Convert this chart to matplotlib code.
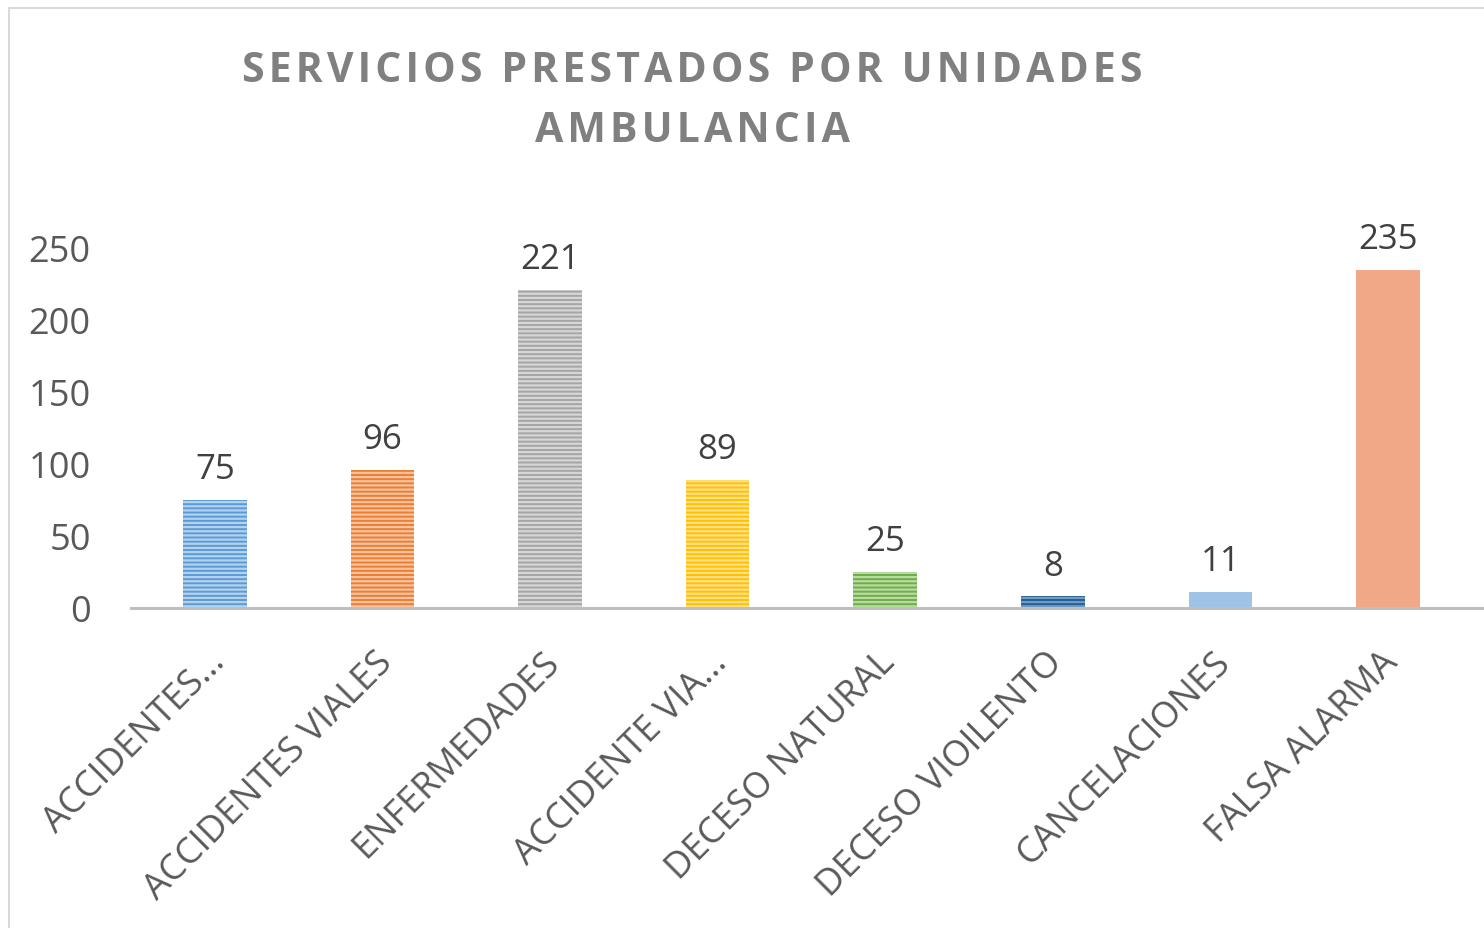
import matplotlib
matplotlib.use("Agg")
import matplotlib.pyplot as plt
import matplotlib.transforms as mtransforms
from matplotlib.patches import Rectangle

categories = ["ACCIDENTES...", "ACCIDENTES VIALES", "ENFERMEDADES", "ACCIDENTE VIA...",
              "DECESO NATURAL", "DECESO VIOILENTO", "CANCELACIONES", "FALSA ALARMA"]
values = [75, 96, 221, 89, 25, 8, 11, 235]
yticks = [0, 50, 100, 150, 200, 250]
title_lines = ["SERVICIOS PRESTADOS POR UNIDADES", "AMBULANCIA"]

face_colors = ["#5B9BD5", "#ED7D31", "#A5A5A5", "#FFC000", "#70AD47", "#255E91", "#9DC3E6", "#F1A886"]
stripe_colors = ["#B4D2EE", "#F7C3A0", "#D6D6D6", "#FFE08A", "#B7DBA0", "#6F9CC6", None, None]

plt.rcParams['font.family'] = ['Open Sans', 'DejaVu Sans']
plt.rcParams['hatch.linewidth'] = 1.6

W, H = 1484, 929
fig = plt.figure(figsize=(W / 100, H / 100), dpi=100)
fig.patch.set_facecolor("white")

# outer chart border (cut at right/bottom like the reference)
fig.add_artist(Rectangle((9 / W, -0.1), 1.2, 1 - 9 / H + 0.1, transform=fig.transFigure,
                         fill=False, edgecolor="#D9D9D9", linewidth=1.5))

left = 131 / W
bottom = (H - 609) / H
top = (H - 249) / H
ax = fig.add_axes([left, bottom, 1 - left, top - bottom])
step = 167.6
ax.set_xlim(-0.5, -0.5 + (W - 131) / step)
ax.set_ylim(0, 250)

x = list(range(len(values)))
for i, v in enumerate(values):
    sc = stripe_colors[i]
    if sc is None:
        ax.bar(i, v, width=0.38, color=face_colors[i], linewidth=0, zorder=2)
    else:
        ax.bar(i, v, width=0.38, facecolor=face_colors[i], edgecolor=sc, hatch='----',
               linewidth=0, zorder=2)
    ax.annotate(str(v), (i, v), xytext=(0, 10), textcoords="offset points",
                ha="center", va="bottom", fontsize=25, color="#404040")

for s in ["top", "right", "left"]:
    ax.spines[s].set_visible(False)
ax.spines["bottom"].set_color("#BFBFBF")
ax.spines["bottom"].set_linewidth(2.2)
ax.spines["bottom"].set_zorder(3)

ax.set_yticks(yticks)
ax.set_yticklabels([str(t) for t in yticks], fontsize=26, color="#595959")
ax.tick_params(axis="y", length=0, pad=29)
for lab in ax.get_yticklabels():
    lab.set_horizontalalignment("right")

ax.set_xticks(x)
ax.set_xticklabels(categories, rotation=45, ha="right", va="top",
                   rotation_mode="anchor", fontsize=26, color="#595959")
ax.tick_params(axis="x", length=0, pad=26)
offset = mtransforms.ScaledTranslation(-8 / 100, 0, fig.dpi_scale_trans)
for lab in ax.get_xticklabels():
    lab.set_transform(lab.get_transform() + offset)

def spaced(s):
    return "\u200A".join(s)

fig.text(692 / W, 1 - 72 / H, spaced(title_lines[0]), ha="center", va="center",
         fontsize=29.5, fontweight="bold", color="#808080")
fig.text(692 / W, 1 - 131 / H, spaced(title_lines[1]), ha="center", va="center",
         fontsize=29.5, fontweight="bold", color="#808080")

fig.savefig("out.png", dpi=100, facecolor="white")
